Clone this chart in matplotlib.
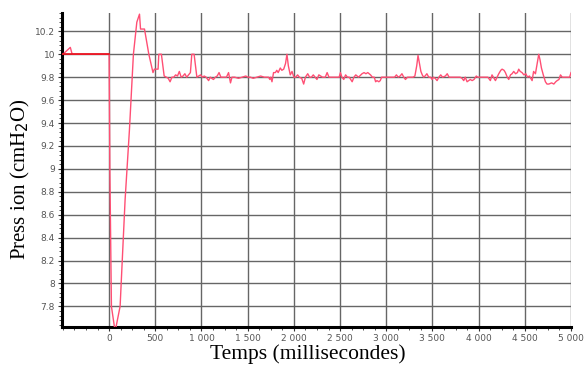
import numpy as np
import matplotlib
matplotlib.use('Agg')
import matplotlib.pyplot as plt
from matplotlib.ticker import FuncFormatter, MultipleLocator

# pressure trace (ms, cmH2O)
t_ms = [
    -510, -500, -420, -400, 0, 8, 25, 65, 119, 173, 220, 263, 300, 329, 340, 383,
    430, 475, 490, 530, 538, 566, 596,
    620, 640, 660, 680, 700, 720, 740, 760, 780, 800, 820, 840, 860, 880, 895, 920,
    935, 950, 970, 990, 1010, 1030, 1050, 1077, 1095, 1110, 1130, 1150, 1170, 1190,
    1210, 1240, 1270, 1293, 1314, 1330, 1360, 1400, 1440,
    1480, 1500, 1530, 1560, 1600, 1640, 1680, 1726, 1740, 1750, 1763, 1780, 1800,
    1815, 1830, 1853, 1870, 1890, 1910, 1925, 1940, 1961, 1980, 2000, 2020, 2040,
    2060, 2085, 2106, 2125, 2150, 2170, 2190, 2210, 2230, 2250, 2270, 2290, 2310,
    2340, 2360, 2380, 2420, 2460, 2490, 2504, 2520, 2540, 2560, 2580, 2600, 2631,
    2650, 2670, 2700, 2738,
    2760, 2780, 2800, 2830, 2850, 2870, 2885, 2900, 2920, 2935, 2950, 2990, 3030,
    3060, 3090, 3110, 3130, 3150, 3170, 3190, 3208, 3230, 3260, 3290, 3310, 3330,
    3344, 3360, 3375, 3390, 3405, 3420, 3440, 3460, 3480, 3496, 3510, 3530, 3550,
    3570, 3590, 3610, 3640, 3660, 3680, 3720, 3760, 3800, 3820, 3839, 3855, 3875,
    3893, 3910, 3930, 3950, 3975, 3990, 4030, 4070, 4100, 4127, 4145, 4160, 4182,
    4200, 4218, 4240, 4254, 4275, 4290, 4310, 4326, 4345, 4362, 4380, 4400, 4420,
    4434, 4450, 4470, 4490, 4510, 4530, 4550, 4579, 4595, 4615, 4630, 4651, 4665,
    4680, 4700, 4723, 4740, 4760, 4790, 4814, 4835, 4850, 4870, 4886, 4905, 4930,
    4960, 4985, 5000,
]
pression = [
    10.0, 10.0, 10.06, 10.0, 10.0, 9.0, 7.8, 7.58, 7.8, 8.73, 9.34, 10.0, 10.28, 10.35, 10.22, 10.22,
    10.0, 9.84, 9.87, 9.87, 10.0, 10.0, 9.81,
    9.80, 9.79, 9.76, 9.80, 9.80, 9.82, 9.81, 9.85, 9.80, 9.81, 9.83, 9.80, 9.82, 9.84, 10.0, 10.0,
    9.90, 9.80, 9.81, 9.82, 9.80, 9.81, 9.80, 9.77, 9.80, 9.79, 9.78, 9.80, 9.81, 9.84,
    9.80, 9.80, 9.80, 9.84, 9.75, 9.80, 9.80, 9.79, 9.80,
    9.81, 9.80, 9.80, 9.79, 9.80, 9.81, 9.80, 9.80, 9.78, 9.80, 9.76, 9.84, 9.84,
    9.86, 9.84, 9.88, 9.86, 9.87, 9.92, 10.0, 9.90, 9.82, 9.85, 9.80, 9.80, 9.82,
    9.80, 9.79, 9.74, 9.80, 9.83, 9.80, 9.80, 9.82, 9.80, 9.78, 9.82, 9.81, 9.80,
    9.80, 9.84, 9.80, 9.80, 9.80, 9.80, 9.84, 9.80, 9.78, 9.82, 9.80, 9.80, 9.76,
    9.80, 9.82, 9.80, 9.83,
    9.84, 9.83, 9.84, 9.82, 9.80, 9.80, 9.76, 9.77, 9.76, 9.77, 9.80, 9.80, 9.80,
    9.80, 9.80, 9.82, 9.80, 9.81, 9.83, 9.80, 9.78, 9.80, 9.80, 9.80, 9.81, 9.90,
    9.99, 9.92, 9.85, 9.82, 9.80, 9.81, 9.83, 9.80, 9.80, 9.78, 9.80, 9.79, 9.77,
    9.80, 9.82, 9.80, 9.81, 9.83, 9.80, 9.80, 9.80, 9.80, 9.79, 9.77, 9.80, 9.76,
    9.77, 9.78, 9.77, 9.78, 9.81, 9.80, 9.80, 9.80, 9.80, 9.77, 9.82, 9.80, 9.77,
    9.80, 9.83, 9.86, 9.87, 9.86, 9.84, 9.80, 9.78, 9.82, 9.83, 9.85, 9.83, 9.84,
    9.87, 9.85, 9.84, 9.82, 9.83, 9.80, 9.81, 9.77, 9.85, 9.83, 9.90, 10.0, 9.95,
    9.88, 9.82, 9.76, 9.74, 9.74, 9.75, 9.74, 9.76, 9.77, 9.78, 9.82, 9.80, 9.80,
    9.80, 9.80, 9.84,
]

# reference level before the occlusion
ref_t = [-510, 0]
ref_p = [10.0, 10.0]

x_ticks = [0, 500, 1000, 1500, 2000, 2500, 3000, 3500, 4000, 4500, 5000]
y_ticks = [7.8, 8.0, 8.2, 8.4, 8.6, 8.8, 9.0, 9.2, 9.4, 9.6, 9.8, 10.0, 10.2]

fig = plt.figure(figsize=(5.86, 3.65), dpi=100)
ax = fig.add_axes([62 / 586, 1 - 327 / 365, (571 - 62) / 586, (327 - 13) / 365])

ax.plot(t_ms, pression, color="#ff4f74", lw=1.0, zorder=3)
ax.plot(ref_t, ref_p, color="#e8101a", lw=1.2, zorder=4)

ax.set_xlim(-510, 5000)
ax.set_ylim(7.62, 10.36)
ax.set_xticks(x_ticks)
ax.set_yticks(y_ticks)
ax.xaxis.set_minor_locator(MultipleLocator(125))
ax.yaxis.set_minor_locator(MultipleLocator(0.04))

ax.xaxis.set_major_formatter(FuncFormatter(lambda v, p: f"{int(v):,}".replace(",", " ")))
ax.yaxis.set_major_formatter(FuncFormatter(lambda v, p: f"{v:g}"))

ax.grid(True, which="major", color="#666666", lw=1.0)
ax.set_axisbelow(True)
for s in ("top", "right"):
    ax.spines[s].set_visible(False)
for s in ("left", "bottom"):
    ax.spines[s].set_linewidth(2.2)
    ax.spines[s].set_color("black")

ax.tick_params(which="major", direction="out", length=3, width=0.8, colors="#333333",
               labelcolor="#555555", labelsize=6.5, pad=2)
ax.tick_params(which="minor", direction="out", length=2, width=0.6, colors="#333333")

ax.set_xlabel("Temps (millisecondes)", family="Liberation Serif", fontsize=15.5)
ax.xaxis.set_label_coords(0.482, -0.055)
ax.set_ylabel("Press ion (cmH$_2$O)", family="Liberation Serif", fontsize=15)
ax.yaxis.set_label_coords(-0.058, 0.47)

plt.savefig("out.png", dpi=100)
plt.close()
